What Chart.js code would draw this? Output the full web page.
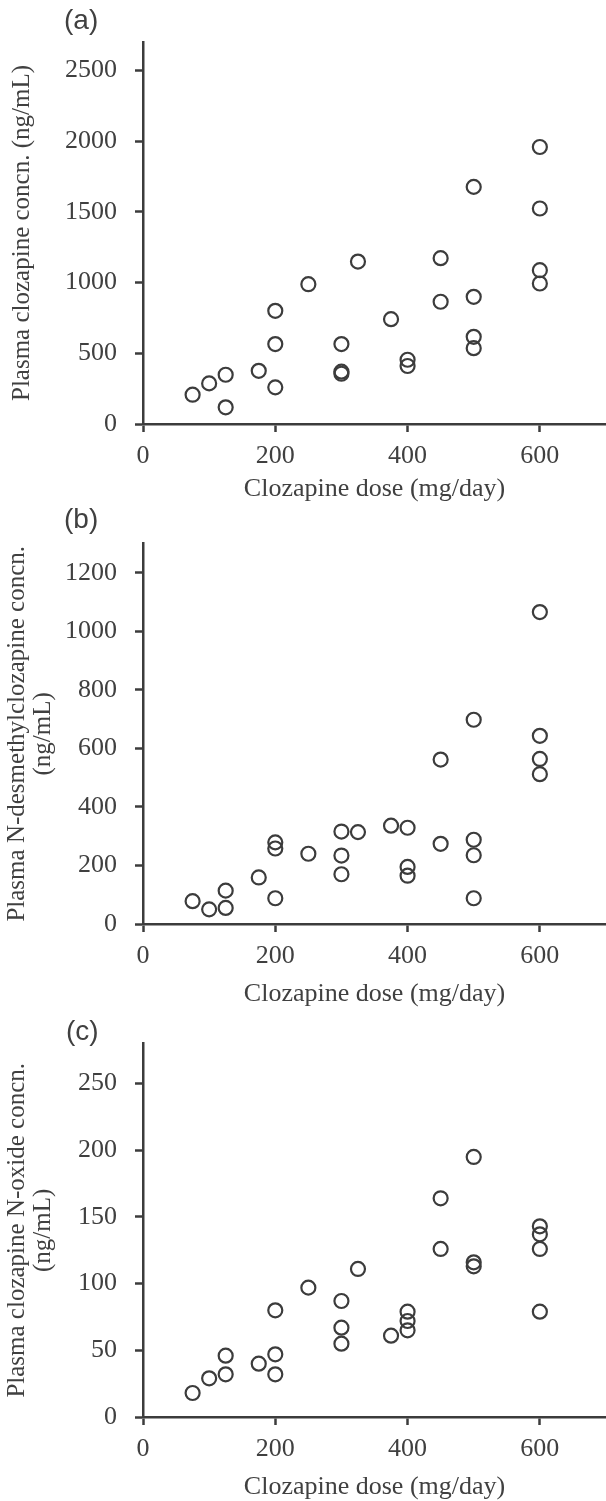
<!DOCTYPE html>
<html>
<head>
<meta charset="utf-8">
<script src="https://cdn.jsdelivr.net/npm/chart.js@4.4.1/dist/chart.umd.min.js"></script>
<style>
  html, body { margin: 0; padding: 0; background: #fff; overflow: hidden; }
  .panel { position: absolute; left: 0; width: 606px; }
  .tag { position: absolute; font-family: 'Liberation Sans', Arial, sans-serif; font-size: 28px; line-height: 28px; color: #404040; }
</style>
</head>
<body>
<div class="panel" style="top:0;height:510px"><canvas id="chartA"></canvas></div>
<div class="panel" style="top:510px;height:500px"><canvas id="chartB"></canvas></div>
<div class="panel" style="top:1010px;height:491px"><canvas id="chartC"></canvas></div>
<div class="tag" style="left:64px;top:6px">(a)</div>
<div class="tag" style="left:64px;top:505px">(b)</div>
<div class="tag" style="left:66px;top:1017px">(c)</div>
<script>
// (a) plasma clozapine
const doseA = [75, 100, 125, 125, 175, 200, 200, 200, 250, 300, 300, 300, 325, 375, 400, 400, 450, 450, 500, 500, 500, 500, 600, 600, 600, 600];
const clozapine = [207, 287, 348, 118, 376, 800, 565, 259, 988, 565, 370, 355, 1148, 741, 454, 410, 1172, 864, 1676, 899, 616, 536, 1958, 1523, 1087, 993];

// (b) plasma N-desmethylclozapine
const doseB = [75, 100, 125, 125, 175, 200, 200, 200, 250, 300, 300, 300, 325, 375, 400, 400, 400, 450, 450, 500, 500, 500, 500, 600, 600, 600, 600];
const desmethyl = [78, 50, 55, 114, 159, 88, 258, 279, 240, 170, 234, 316, 314, 336, 329, 195, 165, 274, 562, 698, 288, 235, 88, 1066, 643, 564, 512];

// (c) plasma clozapine N-oxide
const doseC = [75, 100, 125, 125, 175, 200, 200, 200, 250, 300, 300, 300, 325, 375, 400, 400, 400, 450, 450, 500, 500, 500, 600, 600, 600, 600];
const noxide = [18, 29, 32, 46, 40, 32, 47, 80, 97, 55, 67, 87, 111, 61, 65, 72, 79, 126, 164, 195, 116, 113, 143, 137, 126, 79];

const xTicks = [0, 200, 400, 600];
const yTicksA = [0, 500, 1000, 1500, 2000, 2500];
const yTicksB = [0, 200, 400, 600, 800, 1000, 1200];
const yTicksC = [0, 50, 100, 150, 200, 250];
const xTitle = 'Clozapine dose (mg/day)';

const ink = '#3c3c3c';
const txt = '#404040';
Chart.defaults.font.family = "'Liberation Serif', 'Times New Roman', serif";
Chart.defaults.color = txt;

function makePanel(id, doses, values, yMax, yTicks, yTitle, o) {
  const pts = doses.map((d, i) => ({ x: d, y: values[i] }));
  return new Chart(document.getElementById(id), {
    type: 'scatter',
    data: {
      datasets: [{
        data: pts,
        pointRadius: 7,
        pointBorderWidth: 2.2,
        borderColor: ink,
        backgroundColor: 'rgba(0,0,0,0)',
        pointHoverRadius: 7
      }]
    },
    options: {
      responsive: true,
      maintainAspectRatio: false,
      animation: false,
      events: [],
      layout: { autoPadding: false, padding: { top: o.top, left: 0, right: 0, bottom: 0 } },
      plugins: { legend: { display: false }, tooltip: { enabled: false } },
      scales: {
        x: {
          type: 'linear',
          min: 0,
          max: 700,
          afterFit: s => { s.height = o.xh; },
          afterBuildTicks: s => { s.ticks = xTicks.map(v => ({ value: v })); },
          ticks: { font: { size: 26 }, padding: 9, color: txt, callback: v => String(v) },
          grid: { drawOnChartArea: false, tickLength: 8, tickWidth: 2.5, tickColor: ink },
          border: { display: true, color: ink, width: 2.5 },
          title: { display: true, text: xTitle, font: { size: 26, lineHeight: 1.04 }, color: txt, padding: { top: 0, bottom: o.xtp } }
        },
        y: {
          min: 0,
          max: yMax,
          afterFit: s => { s.width = 143; },
          afterBuildTicks: s => { s.ticks = yTicks.map(v => ({ value: v })); },
          ticks: { font: { size: 26 }, padding: 18, color: txt, callback: v => String(v) },
          grid: { drawOnChartArea: false, tickLength: 8, tickWidth: 2.5, tickColor: ink },
          border: { display: true, color: ink, width: 2.5 },
          title: { display: true, text: yTitle, font: { size: 25, lineHeight: 1.04 }, color: txt, padding: { top: o.ytp, bottom: 0 } }
        }
      }
    }
  });
}

makePanel('chartA', doseA, clozapine, 2700, yTicksA, 'Plasma clozapine concn. (ng/mL)', { top: 42, xh: 86, xtp: 7, ytp: 9 });
makePanel('chartB', doseB, desmethyl, 1300, yTicksB, ['Plasma N-desmethylclozapine concn.', '(ng/mL)'], { top: 28, xh: 86, xtp: 2, ytp: 4 });
makePanel('chartC', doseC, noxide, 280, yTicksC, ['Plasma clozapine N-oxide concn.', '(ng/mL)'], { top: 25, xh: 84, xtp: 0, ytp: 4 });
</script>
</body>
</html>
